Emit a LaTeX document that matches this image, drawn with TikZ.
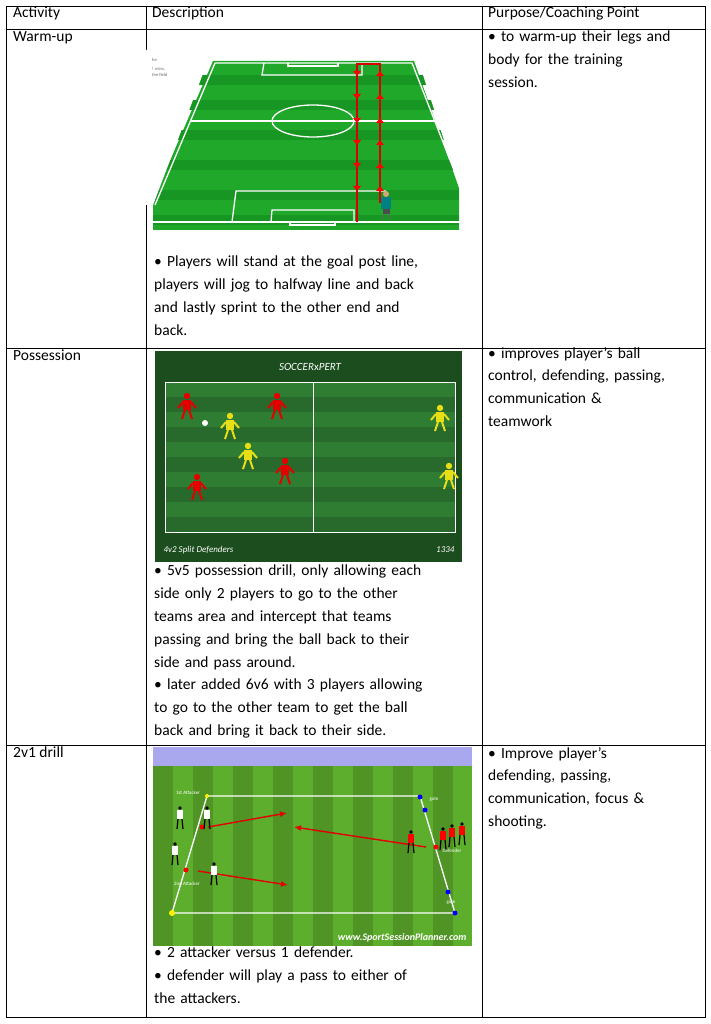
\documentclass[tikz,border=0pt]{standalone}
\usepackage{fontspec}
\setmainfont{Carlito}
\usetikzlibrary{positioning,calc}
\definecolor{pitch}{HTML}{1FA82A}
\definecolor{pitchdark}{HTML}{0E7A18}
\definecolor{possgreen}{HTML}{2E7D32}
\definecolor{possframe}{HTML}{1B4D1E}
\definecolor{grass}{HTML}{5DAE2C}
\definecolor{sky}{HTML}{A9A7EE}
\tikzset{
  cell/.style={anchor=north west, inner sep=0pt, align=left, font=\fontsize{15.5}{22.8}\selectfont},
  grid/.style={line width=0.9pt, black},
  chalk/.style={white, line width=1.3pt},
  run/.style={red!85!black, line width=1.2pt},
  dart/.style={red!90!black, line width=1.4pt, -{Latex[length=7pt,width=6pt]}},
  tag/.style={font=\fontsize{5}{6}\selectfont, text=white, inner sep=0.5pt},
}
\usetikzlibrary{arrows.meta}
\begin{document}
\begin{tikzpicture}[x=1pt,y=-1pt]
    \useasboundingbox[fill=white] (0,0) rectangle (711,1024);
    %Table grid%
    %===========================================================
    \draw[grid] (6,6) rectangle (705,1017);
    \foreach \y in {29,348,745} {\draw[grid] (6,\y) -- (705,\y);}
    \foreach \x in {146,482} {\draw[grid] (\x,6) -- (\x,1017);}
    %Header row
    \node[cell] (hact) at (13,7) {Activity};
    \node[cell] (hdesc) at (152,7) {Description};
    \node[cell] (hpur) at (488,7) {Purpose/Coaching Point};
    %Row labels
    \node[cell] (warm) at (13,31) {Warm-up};
    \node[cell] (poss) at (13,350) {Possession};
    \node[cell] (drill) at (13,747) {2v1 drill};
    %Purpose column
    \node[cell, text width=212pt] (pwarm) at (488,31) {• to warm-up their legs and\\ body for the training\\ session.};
    \node[cell, text width=212pt] (pposs) at (488,347) {• improves player’s ball\\ control, defending, passing,\\ communication \&\\ teamwork};
    \node[cell, text width=212pt] (pdrill) at (488,747) {• Improve player’s\\ defending, passing,\\ communication, focus \&\\ shooting.};
    %Description column texts
    \node[cell, text width=325pt] (dwarm) at (154,256) {• Players will stand at the goal post line,\\ players will jog to halfway line and back\\ and lastly sprint to the other end and\\ back.};
    \node[cell, text width=325pt] (dposs) at (154,565) {• 5v5 possession drill, only allowing each\\ side only 2 players to go to the other\\ teams area and intercept that teams\\ passing and bring the ball back to their\\ side and pass around.\\ • later added 6v6 with 3 players allowing\\ to go to the other team to get the ball\\ back and bring it back to their side.};
    \node[cell, text width=325pt] (ddrill) at (154,947) {• 2 attacker versus 1 defender.\\ • defender will play a pass to either of\\ the attackers.};
    %=============================================================================================================
    %Warm-up pitch%
    %=============================================================================================================
    \fill[pitch] (213,61) -- (414,61) -- (459,188) -- (459,230) -- (153,230) -- (153,200) -- cycle;
    \foreach \y in {75,100,130,160,190,215} {\fill[pitchdark!40!pitch] (153,\y) rectangle (459,\y+10);}
    \fill[white] (140,50) -- (212,50) -- (153,205) -- (140,205) -- cycle;
    \fill[white] (415,50) -- (470,50) -- (470,190) -- (460,190) -- cycle;
    \draw[chalk] (215,63) -- (412,63) -- (459,183);
    \draw[chalk] (215,63) -- (155,205);
    \draw[chalk] (153,222) -- (459,222);
    \draw[chalk] (191,121) -- (436,121);
    \draw[chalk] (313,121) ellipse (41pt and 16pt);
    \draw[chalk] (264,63) -- (262,75) -- (362,75) -- (362,63);
    \draw[chalk] (288,63) -- (288,66) -- (338,66) -- (338,63);
    \draw[chalk] (232,222) -- (236,191) -- (386,191);
    \draw[chalk] (271,222) -- (272,210) -- (354,210) -- (354,222);
    \draw[chalk] (290,222) -- (290,225) -- (335,225) -- (335,222);
    \draw[run] (357,222) -- (357,64) -- (380,64) -- (380,203);
    \foreach \y in {73,96,120,142,165,188} {
        \fill[red] (353,\y-2) -- (361,\y-2) -- (357,\y+3) -- cycle;
        \fill[red] (376,\y+3) -- (384,\y+3) -- (380,\y-2) -- cycle;
    }
    \fill[teal] (381,197) rectangle (391,209);
    \fill[black!70] (383,209) rectangle (390,214);
    \fill[brown!70] (386,194) circle (3pt);
    \draw[black!60, line width=1pt] (384,214) -- (383,220) (389,214) -- (390,220);
    \node[font=\fontsize{4.5}{5.5}\selectfont, text=black!60, anchor=north west, align=left, inner sep=0pt] (wnote) at (152,58) {he\\[4pt] ! mins,\\ the field};
    %=============================================================================================================
    %Possession pitch%
    %=============================================================================================================
    \fill[possframe] (155,351) rectangle (462,562);
    \foreach \y in {382,412,442,472,502} {\fill[possgreen] (165,\y) rectangle (455,\y+15);}
    \foreach \y in {397,427,457,487,517} {\fill[possgreen!85!black] (165,\y) rectangle (455,\y+15);}
    \draw[white, line width=0.8pt] (165,382) rectangle (455,532) (313,382) -- (313,532);
    \node[text=white, font=\fontsize{11}{12}\selectfont\itshape] (sxlogo) at (310,367) {SOCCER\textsc{x}PERT};
    \node[text=white, anchor=west, font=\fontsize{9}{10}\selectfont\itshape] (sxcap) at (160,550) {4v2 Split Defenders};
    \node[text=white, anchor=east, font=\fontsize{9}{10}\selectfont\itshape] (sxnum) at (458,550) {1334};
    \foreach \px/\py/\c in {187/405/red, 277/405/red, 230/425/yellow, 248/455/yellow, 285/470/red, 197/486/red, 440/417/yellow, 449/475/yellow} {
        \fill[\c!90!black] (\px,\py-9) circle (3.2pt);
        \fill[\c!90!black] (\px-4,\py-5) rectangle (\px+4,\py+5);
        \draw[\c!90!black, line width=2pt] (\px-2,\py+5) -- (\px-5,\py+14) (\px+2,\py+5) -- (\px+5,\py+14) (\px-4,\py-3) -- (\px-9,\py+3) (\px+4,\py-3) -- (\px+9,\py+3);
    }
    \fill[white] (205,423) circle (3pt);
    %=============================================================================================================
    %2v1 drill pitch%
    %=============================================================================================================
    \fill[sky] (153,747) rectangle (472,766);
    \fill[grass] (153,766) rectangle (472,946);
    \foreach \x in {153,193,233,273,313,353,393,433} {\fill[grass!85!black] (\x,766) rectangle (\x+20,946);}
    \draw[chalk] (207,796) coordinate (cA) -- (420,796) coordinate (cB) -- (455,913) coordinate (cC) -- (172,913) coordinate (cD) -- cycle;
    \coordinate (m1) at (202,827);
    \coordinate (m2) at (186,870);
    \coordinate (m3) at (436,847);
    \draw[dart] (m1) ++(6,0) -- (287,813);
    \draw[dart] (m3) ++(-10,0) -- (294,827);
    \draw[dart] (m2) ++(12,1) -- (288,885);
    \foreach \p in {m1,m2,m3} {\fill[red] (\p) circle (2.5pt);}
    \fill[yellow] (cA) circle (2pt);
    \fill[yellow] (cD) circle (3pt);
    \foreach \p in {(420,797),(425,810),(448,892),(455,913)} {\fill[blue] \p circle (2.5pt);}
    \foreach \px/\py/\c in {180/817/white, 207/817/white, 175/853/white, 214/873/white, 411/841/red, 443/838/red, 452/835/red, 462/833/red} {
        \fill[\c] (\px-3,\py-7) rectangle (\px+3,\py+2);
        \fill[black] (\px,\py-9) circle (1.8pt);
        \draw[black, line width=1.2pt] (\px-2,\py+2) -- (\px-3,\py+12) (\px+2,\py+2) -- (\px+3,\py+12);
    }
    \node[tag, text=white] (att1) at (188,793) {1st Attacker};
    \node[tag] (att2) at (187,884) {2nd Attacker};
    \node[tag] (defr) at (452,851) {Defender};
    \node[tag] (gate1) at (434,799) {gate};
    \node[tag] (gate2) at (451,902) {gate};
    \node[text=white, anchor=east, font=\fontsize{10}{11}\selectfont\bfseries\itshape] (ssp) at (470,938) {www.SportSessionPlanner.com};
\end{tikzpicture}
\end{document}
